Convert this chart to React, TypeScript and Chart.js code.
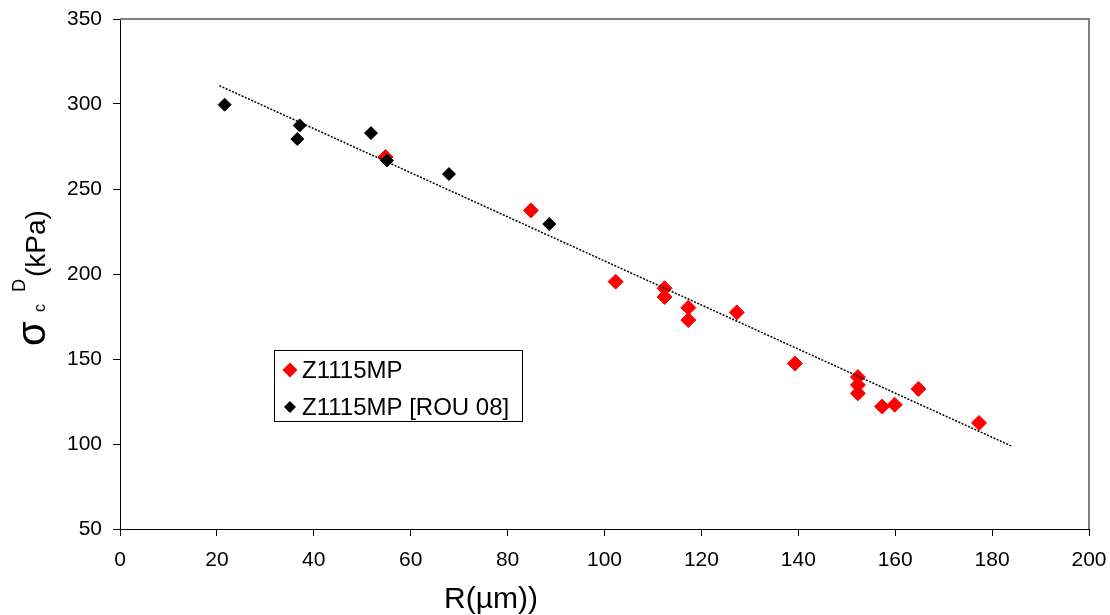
import React, { useEffect, useRef } from "react";
import { Chart, registerables } from "chart.js";

Chart.register(...registerables);

// ---- data ----
const redX = [54.8, 84.8, 102.3, 112.4, 112.4, 117.3, 117.3, 127.3, 139.3, 152.3, 152.3, 152.3, 157.3, 159.9, 164.8, 177.3];
const redY = [268.8, 237.4, 195.5, 191.6, 186.5, 180.2, 172.9, 177.4, 147.4, 139.4, 134.7, 129.8, 122.0, 123.1, 132.4, 112.4];
const blackX = [21.6, 36.6, 37.1, 51.8, 55.1, 67.9, 88.6];
const blackY = [299.6, 279.4, 287.4, 282.9, 266.8, 258.8, 229.4];
const trendX = [20.5, 183.9];
const trendY = [310.8, 98.9];

const xMin = 0;
const xMax = 200;
const xStep = 20;
const yMin = 50;
const yMax = 350;
const yStep = 50;

const seriesNames = ["Z1115MP", "Z1115MP [ROU 08]"];
const xTitle = "R(µm))";
const yTitleMain = "σ";
const yTitleSub = "c";
const yTitleSup = "D";
const yTitleUnit = "(kPa)";

const FONT = "'Liberation Sans', Arial, sans-serif";

const toPoints = (xs: number[], ys: number[]) => xs.map((x, i) => ({ x, y: ys[i] }));

function diamond(ctx: CanvasRenderingContext2D, x: number, y: number, r: number, color: string) {
  ctx.beginPath();
  ctx.moveTo(x - r, y);
  ctx.lineTo(x, y - r);
  ctx.lineTo(x + r, y);
  ctx.lineTo(x, y + r);
  ctx.closePath();
  ctx.fillStyle = color;
  ctx.fill();
}

const overlayPlugin = {
  id: "overlay",
  afterDraw(chart: any) {
    const { ctx, chartArea: a } = chart;
    ctx.save();
    // plot-area border (top / right)
    ctx.strokeStyle = "#7f7f7f";
    ctx.lineWidth = 2;
    ctx.beginPath();
    ctx.moveTo(a.left, a.top);
    ctx.lineTo(a.right, a.top);
    ctx.lineTo(a.right, a.bottom);
    ctx.stroke();

    // legend
    ctx.strokeStyle = "#000";
    ctx.lineWidth = 1;
    ctx.strokeRect(274.5, 350.5, 248, 71);
    diamond(ctx, 290, 370, 7.5, "#ff0000");
    diamond(ctx, 290, 407, 6, "#000000");
    ctx.fillStyle = "#000";
    ctx.font = `24px ${FONT}`;
    ctx.textAlign = "left";
    ctx.textBaseline = "alphabetic";
    ctx.fillText(seriesNames[0], 302, 378);
    ctx.fillText(seriesNames[1], 302, 415);

    // x title
    ctx.font = `30px ${FONT}`;
    ctx.fillText(xTitle, 444, 608);

    // y title (rotated, with sub/superscript)
    ctx.translate(45, 346);
    ctx.rotate(-Math.PI / 2);
    ctx.font = `40px ${FONT}`;
    ctx.fillText(yTitleMain, 0, 0);
    ctx.font = `16px ${FONT}`;
    ctx.fillText(yTitleSub, 34, 0);
    ctx.font = `18px ${FONT}`;
    ctx.fillText(yTitleSup, 54, -20);
    ctx.font = `28px ${FONT}`;
    ctx.fillText(yTitleUnit, 69, 0);
    ctx.restore();
  },
};

export default function App() {
  const ref = useRef<HTMLCanvasElement | null>(null);

  useEffect(() => {
    if (!ref.current) return;
    Chart.defaults.font.family = FONT;
    const chart = new Chart(ref.current, {
      type: "scatter",
      data: {
        datasets: [
          {
            label: "trend",
            data: toPoints(trendX, trendY),
            showLine: true,
            borderColor: "#000",
            borderWidth: 1.5,
            borderDash: [2, 1.5],
            pointRadius: 0,
            fill: false,
          },
          {
            label: seriesNames[1],
            data: toPoints(blackX, blackY),
            pointStyle: "rectRot",
            pointRadius: 6.5,
            backgroundColor: "#000",
            borderColor: "#000",
            borderWidth: 1,
          },
          {
            label: seriesNames[0],
            data: toPoints(redX, redY),
            pointStyle: "rectRot",
            pointRadius: 7.5,
            backgroundColor: "#ff0000",
            borderColor: "#ff0000",
            borderWidth: 1,
          },
        ],
      },
      options: {
        responsive: false,
        animation: false,
        layout: { padding: { left: 0, right: 21, top: 19, bottom: 0 } },
        plugins: {
          legend: { display: false },
          tooltip: { enabled: false },
        },
        scales: {
          x: {
            type: "linear",
            min: xMin,
            max: xMax,
            ticks: { stepSize: xStep, color: "#000", font: { size: 21 }, padding: 12, maxRotation: 0 },
            grid: { drawOnChartArea: false, drawTicks: true, tickLength: 7, color: "#000" },
            border: { display: true, color: "#000", width: 1 },
            afterFit: (s: any) => {
              s.height = 86;
              s.paddingLeft = 0;
              s.paddingRight = 0;
            },
          },
          y: {
            type: "linear",
            min: yMin,
            max: yMax,
            ticks: { stepSize: yStep, color: "#000", font: { size: 21 }, padding: 11 },
            grid: { drawOnChartArea: false, drawTicks: true, tickLength: 7, color: "#000" },
            border: { display: true, color: "#000", width: 1 },
            afterFit: (s: any) => {
              s.width = 120;
              s.paddingTop = 0;
              s.paddingBottom = 0;
            },
          },
        },
      },
      plugins: [overlayPlugin],
    });
    return () => chart.destroy();
  }, []);

  return (
    <div style={{ position: "absolute", left: 0, top: 0, width: 1110, height: 615, background: "#fff" }}>
      <canvas ref={ref} width={1110} height={615} style={{ display: "block" }} />
    </div>
  );
}
